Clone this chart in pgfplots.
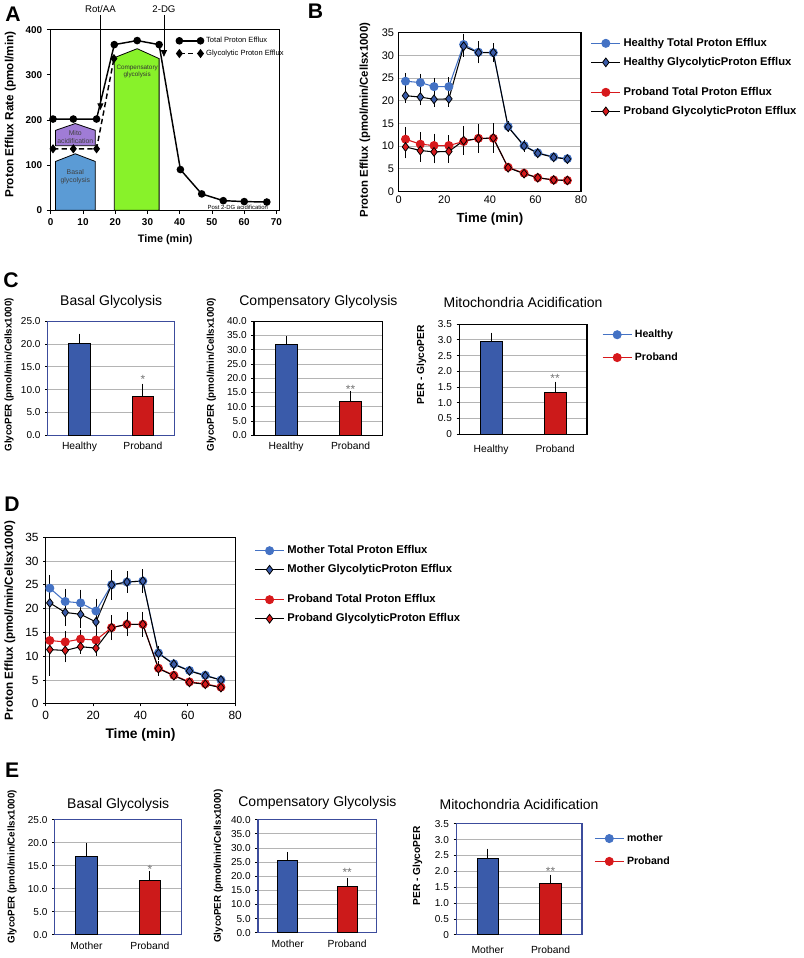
\documentclass[border=0pt]{standalone}
\usepackage{fontspec}
\setmainfont{Liberation Sans}
\usepackage{pgfplots}
\pgfplotsset{compat=1.18}
\usetikzlibrary{arrows.meta}

\definecolor{hblue}{HTML}{4472C4}
\definecolor{dblue}{HTML}{3A5BA8}
\definecolor{pred}{HTML}{D7191C}
\definecolor{barblue}{HTML}{3A5BAA}
\definecolor{barred}{HTML}{CC1A1A}
\definecolor{frameblue}{HTML}{3C4C9C}
\definecolor{gridgray}{HTML}{B4B4B4}
\definecolor{limegreen}{HTML}{88F22A}
\definecolor{mitopurple}{HTML}{A07CD6}
\definecolor{basalblue}{HTML}{5B9BD5}

\pgfplotsset{
  panel/.style={scale only axis, anchor=north west,
    /pgf/number format/assume math mode=true,
    axis line style={line width=0.9pt}, tick style={black, line width=0.6pt}, clip=false},
  lineleg/.style={legend image code/.code={\draw[mark repeat=2,mark phase=2,##1] plot coordinates {(0pt,0pt) (11pt,0pt) (22pt,0pt)};}},
  errb/.style={error bars/y dir=both, error bars/y explicit,
    error bars/error bar style={black, line width=0.6pt},
    error bars/error mark options={black, mark size=1.8pt, line width=0.6pt}},
  barax/.style={panel, xmin=-0.5, xmax=1.5, ymin=0, xtick={0,1},
    major x tick style={draw=none}, ytick pos=left, xtick pos=bottom, tick align=outside,
    major tick length=2pt, ymajorgrids, grid style={gridgray, line width=0.6pt},
    tick label style={font=\fontsize{7.6}{8}\selectfont},
    x tick label style={font=\fontsize{7.8}{8}\selectfont},
    ylabel style={font=\bfseries\fontsize{7.4}{8}\selectfont, anchor=center},
    title style={font=\fontsize{10.6}{11}\selectfont, anchor=center},
    yticklabel style={/pgf/number format/.cd, fixed, fixed zerofill, precision=1},
    legend style={draw=none, fill=none, font=\bfseries\fontsize{8}{9}\selectfont, row sep=6pt},
    legend cell align=left, lineleg},
  bars/.style={ybar, bar width=0.34, bar shift=0pt, draw=black, line width=0.6pt,
    error bars/y dir=plus, error bars/y explicit,
    error bars/error bar style={black, line width=0.7pt},
    error bars/error mark options={black, mark size=2pt, line width=0.7pt}},
  totb/.style={hblue, line width=0.8pt, mark=*, mark size=3pt, mark options={fill=hblue, draw=hblue}},
  glyb/.style={black, line width=0.8pt, mark=diamond*, mark size=3.3pt, mark options={fill=dblue, draw=black, line width=0.6pt}},
  totr/.style={pred, line width=0.8pt, mark=*, mark size=3pt, mark options={fill=pred, draw=pred}},
  glyr/.style={black, line width=0.8pt, mark=diamond*, mark size=3.3pt, mark options={fill=pred, draw=black, line width=0.6pt}},
}

\begin{document}
\begin{tikzpicture}
\begin{scope}[x=0.75pt,y=-0.75pt]
  \path[use as bounding box] (0,0) rectangle (800,958);
  \tikzset{lett/.style={font=\bfseries\fontsize{16}{16}\selectfont}}
  \node[lett] at (10,14) {A};
  \node[lett] at (315,11) {B};
  \node[lett] at (8,283) {C};
  \node[lett] at (9,509) {D};
  \node[lett] at (9,777) {E};
\end{scope}

% ---------------- A
\begin{axis}[panel, at={(36pt,-22.5pt)}, width=173.25pt, height=136.5pt,
  xmin=0, xmax=71, ymin=0, ymax=400,
  xtick={0,10,...,70}, ytick={0,100,...,400},
  tick align=outside, xtick pos=bottom, ytick pos=left, major tick length=3pt,
  tick label style={font=\bfseries\fontsize{7.5}{8}\selectfont},
  xlabel={Time (min)}, ylabel={Proton Efflux Rate (pmol/min)},
  xlabel style={font=\bfseries\fontsize{8.2}{9}\selectfont},
  ylabel style={font=\bfseries\fontsize{8.9}{9}\selectfont, at={(rel axis cs:-0.177,0.53)}, anchor=center},
  legend style={at={(0.53,0.99)}, anchor=north west, draw=none, fill=none,
    font=\fontsize{5.7}{6.5}\selectfont, row sep=0pt},
  legend cell align=left, reverse legend,
  legend image code/.code={\draw[#1] plot coordinates {(0pt,0pt) (16pt,0pt)};},
]
\addplot[black, line width=1.1pt, dash pattern=on 4pt off 2.5pt, mark=diamond*, mark size=2.6pt, mark options={solid}]
  coordinates {(0.7,136) (7,136) (14.2,136) (19.6,336)};
\addlegendentry{Glycolytic Proton Efflux}
\addplot[fill=limegreen, draw=black, line width=0.6pt, forget plot]
  coordinates {(19.7,0) (19.7,338) (26.8,358) (33.6,336) (33.6,0)} -- cycle;
\addplot[fill=mitopurple, draw=black, line width=0.6pt, forget plot]
  coordinates {(1.5,143) (1.5,177) (7.6,192) (13.8,177) (13.8,143)} -- cycle;
\addplot[fill=basalblue, draw=black, line width=0.6pt, forget plot]
  coordinates {(1.5,0) (1.5,108) (7.6,125) (13.8,108) (13.8,0)} -- cycle;
\addplot[black, line width=1.1pt, mark=*, mark size=2.3pt]
  coordinates {(0.7,202) (7,202) (14.2,202) (19.7,367) (26.8,376) (33.6,367)
               (40.2,90) (46.8,36) (53.5,21) (60,19) (67,18)};
\addlegendentry{Total Proton Efflux}
\node[font=\fontsize{5.2}{6}\selectfont, align=center, text=black!75] at (axis cs:7.6,163) {Mito\\acidification};
\node[font=\fontsize{5.2}{6}\selectfont, align=center, text=black!75] at (axis cs:7.6,75) {Basal\\glycolysis};
\node[font=\fontsize{4.8}{5.4}\selectfont, align=center, text=black!80] at (axis cs:26.8,308) {Compensatory\\glycolysis};
\node[font=\fontsize{4.5}{5}\selectfont] at (axis cs:58,6) {Post 2-DG acidification};
\draw[line width=0.6pt, -{Triangle[length=5pt,width=4.5pt]}] (axis cs:15.4,432) -- (axis cs:15.4,222);
\node[font=\fontsize{7.3}{8}\selectfont] at (axis cs:15.4,446) {Rot/AA};
\draw[line width=0.6pt, -{Triangle[length=5pt,width=4.5pt]}] (axis cs:35.1,432) -- (axis cs:35.1,340);
\node[font=\fontsize{7.3}{8}\selectfont] at (axis cs:35.1,446) {2-DG};
\end{axis}

% ---------------- B
\begin{axis}[panel, at={(299.25pt,-24.75pt)}, width=138pt, height=120pt,
  xmin=0, xmax=80, ymin=0, ymax=35, xtick={0,20,...,80}, ytick={0,5,...,35},
  ymajorgrids, grid style={gridgray, line width=0.6pt},
  tick align=outside, xtick pos=bottom, ytick pos=left, major tick length=0pt,
  tick label style={font=\fontsize{8.3}{9}\selectfont},
  xlabel={Time (min)}, xlabel style={font=\bfseries\fontsize{10}{11}\selectfont},
  ylabel={Proton Efflux (pmol/min/Cellsx1000)},
  ylabel style={font=\bfseries\fontsize{8.6}{9}\selectfont, at={(rel axis cs:-0.185,0.45)}, anchor=center},
  legend style={at={(1.03,1.0)}, anchor=north west, draw=none, fill=none,
    font=\bfseries\fontsize{8.5}{9}\selectfont, row sep=2.75pt},
  legend cell align=left, lineleg,
]
\addplot[totb, errb] coordinates {
 (3,24.3)+-(0,1.3) (9.5,24.0)+-(0,1.4) (15.5,23.1)+-(0,1.4) (22,23.1)+-(0,1.5)
 (28.5,32.4)+-(0,1.9) (35,30.7)+-(0,1.9) (41.5,30.6)+-(0,1.5) (48,14.3)+-(0,0.6)
 (55,10.1)+-(0,0.7) (61,8.5)+-(0,0.5) (68,7.6)+-(0,0.4) (74,7.2)+-(0,0.5)};
\addlegendentry{Healthy Total Proton Efflux}
\addplot[glyb, errb] coordinates {
 (3,21.1)+-(0,1.1) (9.5,20.8)+-(0,1.3) (15.5,20.3)+-(0,1.2) (22,20.4)+-(0,1.2)
 (28.5,32.0)+-(0,1.8) (35,30.6)+-(0,1.8) (41.5,30.6)+-(0,1.5) (48,14.2)+-(0,0.6)
 (55,10.0)+-(0,0.7) (61,8.4)+-(0,0.5) (68,7.5)+-(0,0.4) (74,7.1)+-(0,0.5)};
\addlegendentry{Healthy GlycolyticProton Efflux}
\addlegendimage{empty legend}
\addlegendentry{}
\addplot[totr, errb] coordinates {
 (3,11.5)+-(0,2.2) (9.5,10.4)+-(0,2.1) (15.5,10.1)+-(0,2.1) (22,10.1)+-(0,1.8)
 (28.5,11.0)+-(0,2.4) (35,11.7)+-(0,2.6) (41.5,11.7)+-(0,2.7) (48,5.3)+-(0,0.4)
 (55,4.0)+-(0,0.3) (61,3.0)+-(0,0.3) (68,2.5)+-(0,0.2) (74,2.4)+-(0,0.2)};
\addlegendentry{Proband Total Proton Efflux}
\addplot[glyr, errb] coordinates {
 (3,9.8)+-(0,2.0) (9.5,9.0)+-(0,2.0) (15.5,8.7)+-(0,2.0) (22,8.8)+-(0,2.0)
 (28.5,11.2)+-(0,2.6) (35,11.6)+-(0,2.6) (41.5,11.8)+-(0,2.7) (48,5.2)+-(0,0.4)
 (55,3.9)+-(0,0.3) (61,3.0)+-(0,0.3) (68,2.5)+-(0,0.2) (74,2.4)+-(0,0.2)};
\addlegendentry{Proband GlycolyticProton Efflux}
\end{axis}

% ---------------- C
\begin{axis}[barax, at={(33.75pt,-243pt)}, width=96pt, height=86.25pt,
  ymax=25, ytick={0,5,...,25}, xticklabels={Healthy,Proband},
  axis line style={frameblue},
  title={Basal Glycolysis}, title style={at={(0.5,1)}, yshift=8.25pt},
  ylabel={GlycoPER (pmol/min/Cellsx1000)}, ylabel style={at={(rel axis cs:-0.305,0.53)}},
]
\addplot[fill=barblue, bars] coordinates {(0,20.1) +- (0,1.6)};
\addplot[fill=barred, bars] coordinates {(1,8.6) +- (0,2.1)};
\node[font=\fontsize{9}{9}\selectfont, text=black!55] at (axis cs:1,12.2) {*};
\end{axis}

\begin{axis}[barax, at={(189.75pt,-243pt)}, width=97.5pt, height=86.25pt,
  ymax=40, ytick={0,5,...,40}, xticklabels={Healthy,Proband},
  title={Compensatory Glycolysis}, title style={at={(0.5,1)}, yshift=8.25pt},
  ylabel={GlycoPER (pmol/min/Cellsx1000)}, ylabel style={at={(rel axis cs:-0.33,0.53)}},
]
\addplot[fill=barblue, bars] coordinates {(0,32.0) +- (0,1.7)};
\addplot[fill=barred, bars] coordinates {(1,11.8) +- (0,2.6)};
\node[font=\fontsize{9}{9}\selectfont, text=black!55] at (axis cs:1,16.0) {**};
\end{axis}

\begin{axis}[barax, at={(345pt,-245.25pt)}, width=96.75pt, height=83.25pt,
  ymax=3.5, ytick={0,0.5,1,1.5,2,2.5,3,3.5},
  yticklabels={0,0.5,1.0,1.5,2.0,2.5,3.0,3.5}, xticklabels={Healthy,Proband},
  x tick label style={yshift=-3pt},
  title={Mitochondria Acidification}, title style={at={(0.5,1)}, yshift=10.5pt},
  ylabel={PER - GlycoPER}, ylabel style={font=\bfseries\fontsize{7.7}{8}\selectfont, at={(rel axis cs:-0.295,0.63)}},
  legend style={at={(1.085,0.998)}, anchor=north west},
]
\addplot[fill=barblue, bars, forget plot] coordinates {(0,2.96) +- (0,0.19)};
\addplot[fill=barred, bars, forget plot] coordinates {(1,1.34) +- (0,0.25)};
\node[font=\fontsize{9}{9}\selectfont, text=black!55] at (axis cs:1,1.78) {**};
\addlegendimage{totb}
\addlegendentry{Healthy}
\addlegendimage{totr}
\addlegendentry{Proband}
\end{axis}

% ---------------- D
\begin{axis}[panel, at={(32.25pt,-406.5pt)}, width=143.25pt, height=126pt,
  xmin=0, xmax=80, ymin=0, ymax=35, xtick={0,20,...,80}, ytick={0,5,...,35},
  ymajorgrids, grid style={gridgray, line width=0.6pt},
  tick align=outside, xtick pos=bottom, ytick pos=left, major tick length=2pt,
  tick label style={font=\fontsize{9}{9}\selectfont},
  xlabel={Time (min)}, xlabel style={font=\bfseries\fontsize{10.5}{11}\selectfont},
  ylabel={Proton Efflux (pmol/min/Cellsx1000)},
  ylabel style={font=\bfseries\fontsize{8.8}{9}\selectfont, at={(rel axis cs:-0.19,0.5)}, anchor=center},
  legend style={at={(1.08,0.983)}, anchor=north west, draw=none, fill=none,
    font=\bfseries\fontsize{8.5}{9}\selectfont, row sep=2.75pt},
  legend cell align=left, lineleg,
]
\addplot[totb, errb] coordinates {
 (1.7,24.3)+-(0,2.3) (8.2,21.5)+-(0,2.2) (14.7,21.2)+-(0,2.3) (21.2,19.5)+-(0,2.1)
 (27.8,25.0)+-(0,2.6) (34.3,25.6)+-(0,1.7) (41,25.8)+-(0,2.0) (47.6,10.7)+-(0,0.9)
 (54.1,8.4)+-(0,0.6) (60.7,7.0)+-(0,0.4) (67.4,6.0)+-(0,0.3) (74,5.0)+-(0,0.3)};
\addlegendentry{Mother Total Proton Efflux}
\addplot[glyb, errb] coordinates {
 (1.7,21.2)+-(0,2.5) (8.2,19.2)+-(0,2.4) (14.7,18.8)+-(0,2.3) (21.2,17.2)+-(0,2.2)
 (27.8,25.0)+-(0,2.5) (34.3,25.6)+-(0,1.8) (41,25.8)+-(0,2.0) (47.6,10.6)+-(0,0.9)
 (54.1,8.3)+-(0,0.6) (60.7,6.9)+-(0,0.4) (67.4,5.9)+-(0,0.3) (74,5.0)+-(0,0.3)};
\addlegendentry{Mother GlycolyticProton Efflux}
\addlegendimage{empty legend}
\addlegendentry{}
\addplot[totr, errb] coordinates {
 (1.7,13.3)+-(0,4.8) (8.2,13.0)+-(0,1.8) (14.7,13.6)+-(0,1.5) (21.2,13.4)+-(0,1.6)
 (27.8,16.0)+-(0,2.1) (34.3,16.7)+-(0,2.0) (41,16.7)+-(0,2.1) (47.6,7.5)+-(0,1.0)
 (54.1,6.0)+-(0,0.4) (60.7,4.6)+-(0,0.3) (67.4,4.2)+-(0,0.3) (74,3.5)+-(0,0.3)};
\addlegendentry{Proband Total Proton Efflux}
\addplot[glyr, errb] coordinates {
 (1.7,11.4)+-(0,5.0) (8.2,11.2)+-(0,2.0) (14.7,12.0)+-(0,1.0) (21.2,11.7)+-(0,1.2)
 (27.8,16.0)+-(0,2.0) (34.3,16.7)+-(0,2.0) (41,16.7)+-(0,2.1) (47.6,7.4)+-(0,1.0)
 (54.1,5.9)+-(0,0.4) (60.7,4.5)+-(0,0.3) (67.4,4.1)+-(0,0.3) (74,3.4)+-(0,0.3)};
\addlegendentry{Proband GlycolyticProton Efflux}
\end{axis}

% ---------------- E
\begin{axis}[barax, at={(39pt,-620.25pt)}, width=96pt, height=87pt,
  ymax=25, ytick={0,5,...,25}, xticklabels={Mother,Proband},
  axis line style={frameblue},
  title={Basal Glycolysis}, title style={at={(0.5,1)}, yshift=5.25pt},
  ylabel={GlycoPER (pmol/min/Cellsx1000)}, ylabel style={at={(rel axis cs:-0.336,0.59)}},
]
\addplot[fill=barblue, bars] coordinates {(0,17.1) +- (0,2.2)};
\addplot[fill=barred, bars] coordinates {(1,11.8) +- (0,1.4)};
\node[font=\fontsize{9}{9}\selectfont, text=black!55] at (axis cs:1,14.3) {*};
\end{axis}

\begin{axis}[barax, at={(192.75pt,-620.25pt)}, width=90pt, height=85.5pt,
  ymax=40, ytick={0,5,...,40}, xticklabels={Mother,Proband},
  axis line style={frameblue},
  title={Compensatory Glycolysis}, title style={at={(0.5,1)}, yshift=6.75pt},
  ylabel={GlycoPER (pmol/min/Cellsx1000)}, ylabel style={at={(rel axis cs:-0.333,0.59)}},
]
\addplot[fill=barblue, bars] coordinates {(0,25.7) +- (0,2.0)};
\addplot[fill=barred, bars] coordinates {(1,16.5) +- (0,2.1)};
\node[font=\fontsize{9}{9}\selectfont, text=black!55] at (axis cs:1,21.3) {**};
\end{axis}

\begin{axis}[barax, at={(342.75pt,-623.25pt)}, width=95.25pt, height=84pt,
  ymax=3.5, ytick={0,0.5,1,1.5,2,2.5,3,3.5},
  yticklabels={0,0.5,1.0,1.5,2.0,2.5,3.0,3.5}, xticklabels={Mother,Proband},
  x tick label style={yshift=-3pt},
  axis line style={frameblue},
  title={Mitochondria Acidification}, title style={at={(0.5,1)}, yshift=8.25pt},
  ylabel={PER - GlycoPER}, ylabel style={font=\bfseries\fontsize{7.7}{8}\selectfont, at={(rel axis cs:-0.307,0.62)}},
  legend style={at={(1.063,0.96)}, anchor=north west},
]
\addplot[fill=barblue, bars, forget plot] coordinates {(0,2.41) +- (0,0.22)};
\addplot[fill=barred, bars, forget plot] coordinates {(1,1.63) +- (0,0.18)};
\node[font=\fontsize{9}{9}\selectfont, text=black!55] at (axis cs:1,2.0) {**};
\addlegendimage{totb}
\addlegendentry{mother}
\addlegendimage{totr}
\addlegendentry{Proband}
\end{axis}
\end{tikzpicture}
\end{document}
